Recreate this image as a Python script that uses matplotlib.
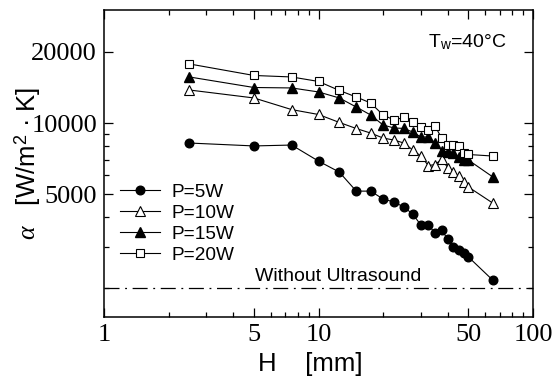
import matplotlib
matplotlib.use("Agg")
import matplotlib.pyplot as plt
from matplotlib.ticker import FixedLocator, NullFormatter, FixedFormatter

# Data
H = [2.5, 5, 7.5, 10, 12.5, 15, 17.5, 20, 22.5, 25, 27.5, 30, 32.5, 35,
     37.5, 40, 42.5, 45, 47.5, 50, 65]
p5 = [8230, 8000, 8070, 6900, 6200, 5150, 5150, 4770, 4630, 4410, 4120,
      3700, 3700, 3420, 3520, 3230, 2990, 2900, 2820, 2710, 2160]
p10 = [13800, 12770, 11400, 10870, 10060, 9480, 9070, 8640, 8470, 8230, 7690,
       7250, 6610, 6670, 7040, 6480, 6200, 5970, 5620, 5360, 4580]
p15 = [15670, 14140, 14080, 13540, 12770, 11690, 10820, 9810, 9530, 9490, 9160,
       8730, 8730, 8230, 7650, 7540, 7470, 7180, 6970, 6970, 5910]
p20 = [17790, 15900, 15670, 15000, 13740, 12890, 12160, 10820, 10300, 10560, 10100,
       9620, 9340, 9670, 8640, 8110, 8110, 8000, 7500, 7360, 7250]
no_ultrasound = 2000

x_major = [1, 5, 10, 50, 100]
x_minor = [2, 3, 4, 6, 7, 8, 9, 20, 30, 40, 60, 70, 80, 90]
y_major = [5000, 10000, 20000]
y_minor = [2000, 3000, 4000, 6000, 7000, 8000, 9000]

plt.rcParams['font.family'] = 'Liberation Sans'
plt.rcParams['mathtext.fontset'] = 'custom'
plt.rcParams['mathtext.rm'] = 'Liberation Sans'
plt.rcParams['mathtext.it'] = 'Liberation Serif:italic'

fig = plt.figure(figsize=(5.52, 3.8), dpi=100)
ax = fig.add_axes([0.1884, 0.1658, 0.7772, 0.8079])

ax.set_xscale('log')
ax.set_yscale('log')
ax.set_xlim(1, 100)
ax.set_ylim(1510, 30100)

lw = 0.8
ax.plot(H, p5, '-o', color='black', lw=lw, ms=6.2, mfc='black', mec='black', label='P=5W')
ax.plot(H, p10, '-^', color='black', lw=lw, ms=7, mfc='white', mec='black', mew=0.8, label='P=10W')
ax.plot(H, p15, '-^', color='black', lw=lw, ms=7, mfc='black', mec='black', label='P=15W')
ax.plot(H, p20, '-s', color='black', lw=lw, ms=5.8, mfc='white', mec='black', mew=0.8, label='P=20W')

ax.axhline(no_ultrasound, color='black', lw=0.9, ls=(0, (12, 4.5, 1.5, 4.5)))
ax.text(5.06, 2250, 'Without Ultrasound', fontsize=14, va='center', ha='left')
ax.text(0.755, 0.896, r'T$_{\rm w}$=40°C', transform=ax.transAxes, fontsize=14,
        va='center', ha='left')

# ticks
ax.xaxis.set_major_locator(FixedLocator(x_major))
ax.xaxis.set_major_formatter(FixedFormatter([str(v) for v in x_major]))
ax.xaxis.set_minor_locator(FixedLocator(x_minor))
ax.xaxis.set_minor_formatter(NullFormatter())
ax.yaxis.set_major_locator(FixedLocator(y_major))
ax.yaxis.set_major_formatter(FixedFormatter([str(v) for v in y_major]))
ax.yaxis.set_minor_locator(FixedLocator(y_minor))
ax.yaxis.set_minor_formatter(NullFormatter())
ax.tick_params(which='both', direction='in', top=True, right=True, width=0.9)
ax.tick_params(which='major', length=6.5, labelsize=19, pad=5)
ax.tick_params(which='minor', length=3.5)
for lab in ax.get_xticklabels() + ax.get_yticklabels():
    lab.set_fontfamily('Liberation Serif')
for s in ax.spines.values():
    s.set_linewidth(1.1)

ax.set_xlabel('H    [mm]', fontsize=18.5)
ax.xaxis.set_label_coords(0.48, -0.115)
ax.set_ylabel(r'$\alpha$   [W/m$^2$ · K]', fontsize=18.5)
ax.yaxis.set_label_coords(-0.142, 0.5)

ax.legend(loc='upper left', bbox_to_anchor=(0.037, 0.435), frameon=False,
          fontsize=13.7, handlelength=2.1, handletextpad=0.6, labelspacing=0.2,
          borderpad=0, borderaxespad=0)

fig.savefig('out.png', dpi=100)
